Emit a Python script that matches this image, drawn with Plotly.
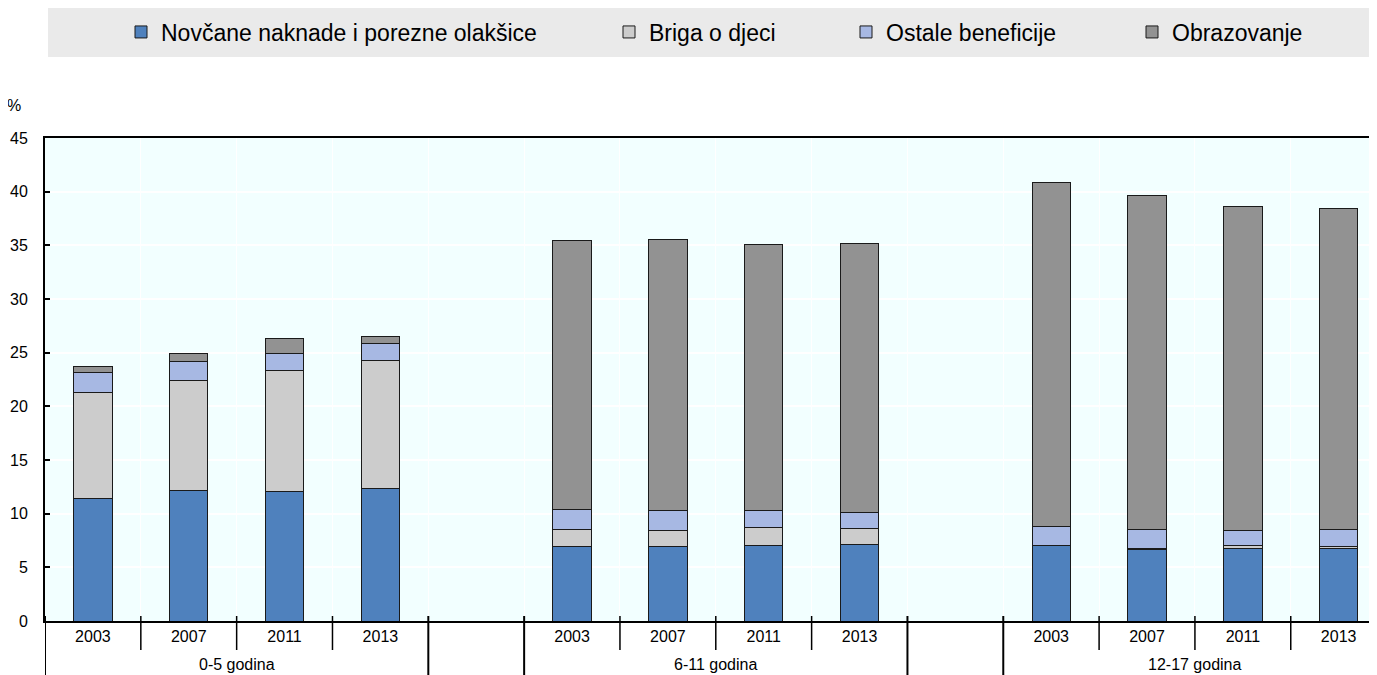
import plotly.graph_objects as go

groups = ["0-5 godina", "6-11 godina", "12-17 godina"]
years = ["2003", "2007", "2011", "2013"]
series_names = ["Novčane naknade i porezne olakšice", "Briga o djeci", "Ostale beneficije", "Obrazovanje"]

# values per group, per year (percent)
cash = [11.4, 12.2, 12.1, 12.35,
        6.9, 6.95, 7.05, 7.1,
        7.0, 6.7, 6.8, 6.8]
childcare = [9.9, 10.2, 11.2, 11.9,
             1.6, 1.45, 1.7, 1.5,
             0.05, 0.1, 0.2, 0.1]
other = [1.85, 1.8, 1.6, 1.6,
         1.87, 1.85, 1.5, 1.5,
         1.8, 1.75, 1.45, 1.6]
education = [0.6, 0.7, 1.4, 0.7,
             25.1, 25.3, 24.8, 25.1,
             32.0, 31.1, 30.15, 29.9]

colors = ["#4F81BD", "#CCCCCC", "#A7B8E3", "#929292"]
FONT = "Liberation Sans, Arial, sans-serif"

# slot positions: 4 years per group, one empty slot between groups
slot = len(years) + 1
xpos = [g * slot + i for g in range(len(groups)) for i in range(len(years))]
xlabels = [y for g in groups for y in years]

fig = go.Figure()
legend_ids = ["legend", "legend2", "legend3", "legend4"]
for name, vals, col, lg in zip(series_names, [cash, childcare, other, education], colors, legend_ids):
    fig.add_trace(go.Bar(
        x=xpos, y=vals, name=name, width=0.4,
        marker=dict(color=col, line=dict(color="#1a1a1a", width=1)),
        legend=lg,
    ))

n_slots = len(groups) * slot - 1
x_lo, x_hi = -0.5, n_slots - 0.6

# page body has an 8px margin: figure coordinates are shifted by 8px
OFF = 8
PL, PT, PW, PH = 45, 138, 1332, 483  # plot area in window pixels

def px_to_paper_x(px):
    return (px - PL) / float(PW)

def py_to_paper_y(py):
    return (PT + PH - py) / float(PH)

# grey band behind legend
fig.add_shape(type="rect", xref="paper", yref="paper",
              x0=px_to_paper_x(48), x1=1.0, y0=py_to_paper_y(57), y1=py_to_paper_y(8),
              fillcolor="#EAEAEA", line=dict(width=0), layer="below")

legend_text_px = [163, 651, 888, 1174]
leg_layout = {}
for lg, tx in zip(legend_ids, legend_text_px):
    leg_layout[lg] = dict(
        x=px_to_paper_x(tx - 42), xanchor="left",
        y=py_to_paper_y(32), yanchor="middle",
        orientation="h", bgcolor="rgba(0,0,0,0)",
        font=dict(family=FONT, size=23, color="#000000"),
        itemclick=False, itemdoubleclick=False,
    )

# x-axis separators below the plot
boundaries = [b - 0.5 for b in range(n_slots + 1)]
group_edges = set()
for g in range(len(groups)):
    group_edges.add(g * slot - 0.5)
    group_edges.add(g * slot + len(years) - 0.5)
for b in boundaries:
    if b > x_hi:
        continue
    long_line = b in group_edges
    fig.add_shape(type="line", xref="x", yref="paper",
                  x0=b, x1=b, y0=py_to_paper_y(616),
                  y1=py_to_paper_y(675 if long_line else 650),
                  line=dict(color="#000000", width=2 if long_line else 1.5), layer="above")

for g, gname in enumerate(groups):
    fig.add_annotation(x=g * slot + (len(years) - 1) / 2, xref="x",
                       y=py_to_paper_y(664), yref="paper",
                       text=gname, showarrow=False,
                       font=dict(family=FONT, size=16, color="#000000"),
                       xanchor="center", yanchor="middle")

fig.add_annotation(x=px_to_paper_x(14), xref="paper", y=py_to_paper_y(105), yref="paper",
                   text="%", showarrow=False, xanchor="center", yanchor="middle",
                   font=dict(family=FONT, size=16, color="#000000"))

fig.update_layout(
    width=1377 - OFF, height=675 - OFF,
    margin=dict(l=PL - OFF, r=0, t=PT - OFF, b=675 - PT - PH),
    barmode="stack",
    paper_bgcolor="#FFFFFF",
    plot_bgcolor="#F2FFFF",
    font=dict(family=FONT, size=16, color="#000000"),
    showlegend=True,
    **leg_layout,
)

fig.update_xaxes(
    range=[x_lo, x_hi],
    tickmode="array", tickvals=xpos, ticktext=xlabels,
    ticks="", showgrid=False, zeroline=False,
    showline=True, linecolor="#000000", linewidth=2, mirror=True,
    tickfont=dict(family=FONT, size=16, color="#000000"),
    minor=dict(tickmode="array", tickvals=boundaries, showgrid=True,
               gridcolor="#FFFFFF", gridwidth=1, ticks=""),
)
fig.update_yaxes(
    range=[0, 45], tickmode="linear", tick0=0, dtick=5,
    ticks="inside", ticklen=5, tickcolor="#000000", tickwidth=1.5,
    showgrid=True, gridcolor="#FFFFFF", gridwidth=1.5, zeroline=False,
    showline=True, linecolor="#000000", linewidth=2,
    ticklabelstandoff=12,
    tickfont=dict(family=FONT, size=16, color="#000000"),
)

fig.write_html("out.html")
